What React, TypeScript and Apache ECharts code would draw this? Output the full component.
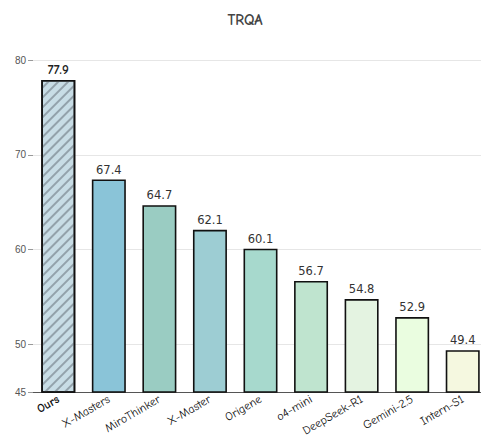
import React, { useEffect, useRef } from "react";
import * as echarts from "echarts";

const categories = ["Ours", "X-Masters", "MiroThinker", "X-Master", "Origene", "o4-mini", "DeepSeek-R1", "Gemini-2.5", "Intern-S1"];
const values = [77.9, 67.4, 64.7, 62.1, 60.1, 56.7, 54.8, 52.9, 49.4];
const colors = ["#c8dde6", "#8ac4d8", "#9accc2", "#9dcdd3", "#a7d9cd", "#bfe4cf", "#e4f3e1", "#eafde0", "#f5f8e0"];
const yTicks = [45, 50, 60, 70, 80];

const comic = "'Comic Sans MS', 'Comic Neue', 'DejaVu Sans', sans-serif";

export default function App() {
  const ref = useRef<HTMLDivElement>(null);
  useEffect(() => {
    document.body.style.margin = "0";
    const chart = echarts.init(ref.current!, null, { renderer: "svg" });
    chart.setOption({
      animation: false,
      backgroundColor: "#ffffff",
      title: {
        text: "TRQA",
        left: 240,
        textAlign: "center",
        top: 7,
        textStyle: { fontFamily: comic, fontSize: 15, fontWeight: "bold", color: "#444" },
      },
      grid: { left: 33, top: 60, width: 455, height: 332 },
      xAxis: {
        type: "category",
        data: categories,
        axisLine: { show: true, lineStyle: { color: "#555", width: 1 } },
        axisTick: { show: false },
        axisLabel: {
          rotate: 30,
          margin: 6,
          fontFamily: comic,
          fontSize: 12,
          color: "#111",
          formatter: (v: string) => (v === "Ours" ? "{b|" + v + "}" : v),
          rich: { b: { fontFamily: comic, fontSize: 12, fontWeight: "bold", color: "#111" } },
        },
      },
      yAxis: {
        type: "value",
        min: 45,
        max: 80,
        interval: 5,
        axisLine: { show: false },
        axisTick: { show: true, length: 5, lineStyle: { color: "#999" }, customValues: yTicks },
        axisLabel: { fontFamily: "Liberation Sans, Arial, sans-serif", fontSize: 10, color: "#555", margin: 7, customValues: yTicks },
        splitLine: { show: true, lineStyle: { color: "#e6e6e6", width: 1 } },
      },
      series: [
        {
          type: "bar",
          barWidth: 34,
          data: values.map((v, i) => ({
            value: v,
            itemStyle: {
              color: colors[i],
              borderColor: "#111",
              borderWidth: 1.6,
              decal:
                i === 0
                  ? {
                      symbol: "rect",
                      symbolSize: 1,
                      dashArrayX: [1, 0],
                      dashArrayY: [1.1, 4.5],
                      rotation: -Math.PI / 4,
                      color: "rgba(115,125,135,0.62)",
                    }
                  : "none",
            },
            label:
              i === 0
                ? { fontFamily: comic, fontWeight: "bold", fontSize: 13, color: "#222" }
                : undefined,
          })),
          label: {
            show: true,
            position: "top",
            distance: 4,
            fontFamily: "'DejaVu Sans', sans-serif",
            fontSize: 11.5,
            color: "#333",
          },
        },
      ],
    });
    return () => chart.dispose();
  }, []);
  return (
    <div style={{ width: 481, height: 439, overflow: "hidden", position: "relative" }}>
      <div ref={ref} style={{ width: 490, height: 439 }} />
    </div>
  );
}
